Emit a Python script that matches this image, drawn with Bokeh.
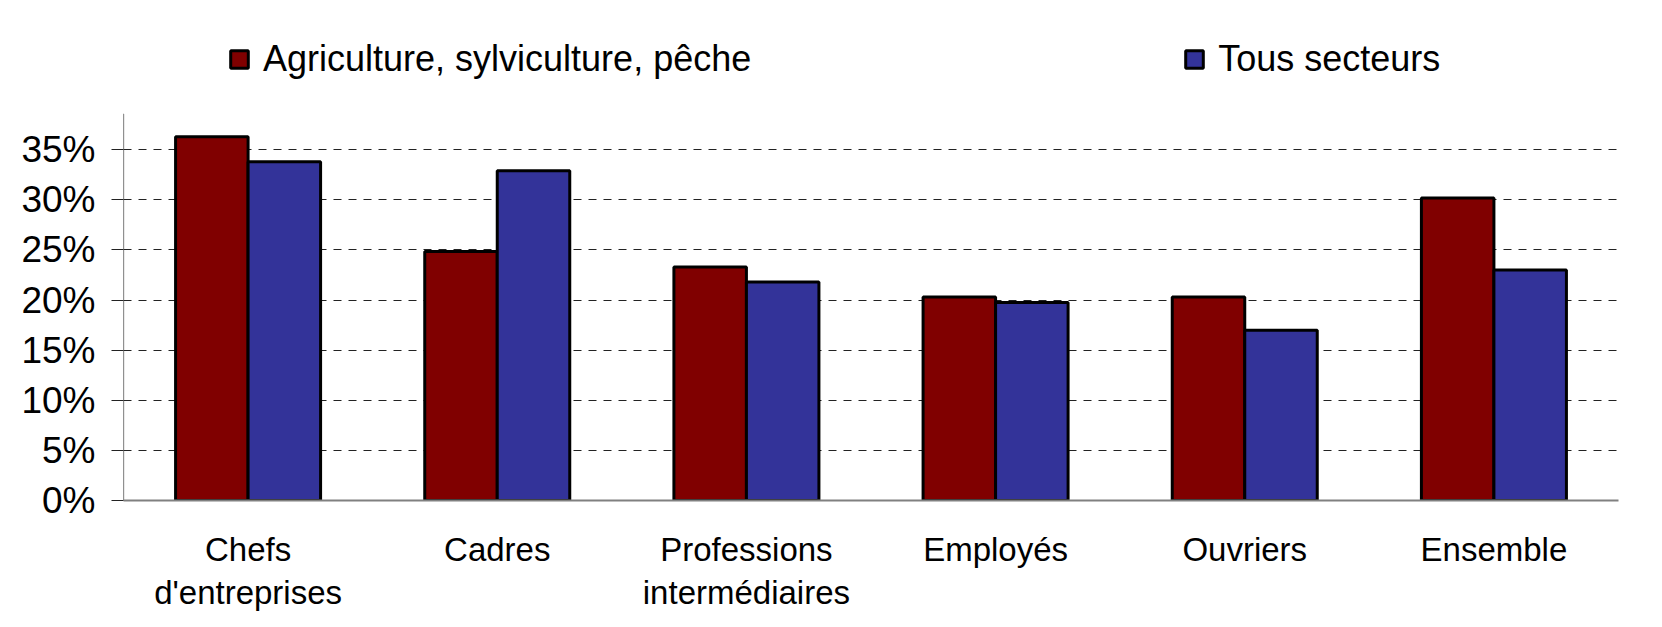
from bokeh.plotting import figure
from bokeh.models import (ColumnDataSource, FactorRange, Range1d, Legend, LegendItem,
                          PrintfTickFormatter, FixedTicker)
from bokeh.transform import dodge
from bokeh.embed import file_html
from bokeh.resources import INLINE

categories = ["Chefs\nd'entreprises", "Cadres", "Professions\ninterm\u00e9diaires",
              "Employ\u00e9s", "Ouvriers", "Ensemble"]
agriculture = [36.3, 24.85, 23.3, 20.3, 20.3, 30.2]
tous_secteurs = [33.8, 32.9, 21.8, 19.75, 17.0, 23.0]
series_names = ["Agriculture, sylviculture, p\u00eache", "Tous secteurs"]
y_ticks = [0, 5, 10, 15, 20, 25, 30, 35]
AXIS_TOP = 38.6     # top of the value axis line (%)
RANGE_TOP = 48.9    # room above the axis for the legend

FONT = "Liberation Sans"

source = ColumnDataSource(dict(cat=categories, agri=agriculture, tous=tous_secteurs))

p = figure(width=1646, height=619, output_backend="svg", toolbar_location=None,
           x_range=FactorRange(*categories, range_padding=0),
           y_range=Range1d(0, RANGE_TOP),
           min_border_left=123, min_border_right=28, min_border_top=10, min_border_bottom=119)
p.outline_line_color = None
p.background_fill_color = "white"
p.border_fill_color = "white"

r1 = p.vbar(x=dodge("cat", -0.1455, range=p.x_range), top="agri", width=0.291, source=source,
            fill_color="#800000", line_color="black", line_width=3)
r2 = p.vbar(x=dodge("cat", 0.1455, range=p.x_range), top="tous", width=0.291, source=source,
            fill_color="#333399", line_color="black", line_width=3)

# value axis line (stops at AXIS_TOP)
axis_src = ColumnDataSource(dict(cat=[categories[0]], y0=[0], y1=[AXIS_TOP]))
p.segment(x0=dodge("cat", -0.5, range=p.x_range), y0="y0",
          x1=dodge("cat", -0.5, range=p.x_range), y1="y1",
          source=axis_src, line_color="#222222", line_width=1.2)

# grid
p.xgrid.grid_line_color = None
p.ygrid.grid_line_color = "#222222"
p.ygrid.grid_line_dash = "8 7"
p.ygrid.grid_line_width = 1.2

# y axis
p.yaxis.ticker = FixedTicker(ticks=y_ticks)
p.yaxis.formatter = PrintfTickFormatter(format="%d%%")
p.yaxis.major_tick_out = 12
p.yaxis.major_tick_in = 0
p.yaxis.minor_tick_line_color = None
p.yaxis.axis_line_color = None
p.yaxis.major_tick_line_color = "#222222"
p.yaxis.major_label_text_font = FONT
p.yaxis.major_label_text_font_size = "37px"
p.yaxis.major_label_text_color = "black"
p.yaxis.major_label_standoff = 16

# x axis
p.xaxis.major_tick_out = 0
p.xaxis.major_tick_in = 0
p.xaxis.axis_line_color = "#808080"
p.xaxis.axis_line_width = 2
p.xaxis.major_label_text_font = FONT
p.xaxis.major_label_text_font_size = "33px"
p.xaxis.major_label_text_color = "black"
p.xaxis.major_label_text_line_height = 1.18
p.xaxis.major_label_standoff = 30
p.xaxis.major_label_orientation = "horizontal"

items = [LegendItem(label=series_names[0], renderers=[r1]),
         LegendItem(label=series_names[1], renderers=[r2])]
legend = Legend(items=items, location=(105, 420), orientation="horizontal",
                glyph_width=22, glyph_height=22, label_standoff=13, spacing=432,
                padding=0, margin=0,
                border_line_color=None, background_fill_alpha=0, label_text_font=FONT,
                label_text_font_size="36px", label_text_color="black")
p.add_layout(legend, "center")

open("out.html", "w").write(file_html(p, INLINE))
